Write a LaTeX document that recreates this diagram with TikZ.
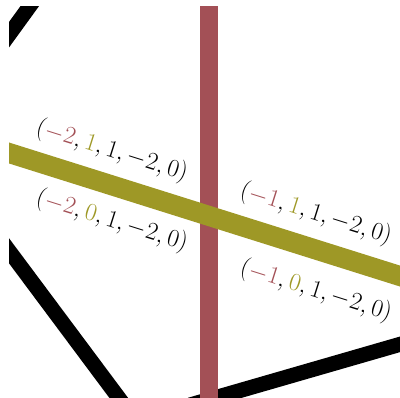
\documentclass[tikz,border=0pt]{standalone}
\usetikzlibrary{positioning}
\usepackage{xcolor}
\definecolor{wallred}{RGB}{163,80,86}
\definecolor{wallolive}{RGB}{158,152,38}
\tikzstyle{edge} = [line width=15pt, draw=black]
\tikzstyle{redwall} = [line width=18pt, draw=wallred]
\tikzstyle{olivewall} = [line width=20pt, draw=wallolive]
\tikzstyle{coord} = [font=\fontsize{27.5}{32}\selectfont, rotate=-17.46, inner sep=0pt]
\newcommand{\fr}[1]{\textcolor{wallred}{#1}}
\newcommand{\so}[1]{\textcolor{wallolive}{#1}}

\begin{document}
\begin{tikzpicture}[x=1pt,y=-1pt]
\useasboundingbox (0,0) rectangle (400,398);
\clip (9,7) rectangle (400,398);
% --- end points ---
\coordinate (tlA) at (40,-8);
\coordinate (tlB) at (-5,54);
\coordinate (blA) at (-5,232);
\coordinate (blB) at (130,413);
\coordinate (brA) at (190,405);
\coordinate (brB) at (415,340);
\coordinate (rtop) at (209,-10);
\coordinate (rbot) at (209,410);
\coordinate (oleft) at (-10,147);
\coordinate (oright) at (410,279.2);

% --- black edges ---
\draw[edge] (tlA) -- (tlB);
\draw[edge] (blA) -- (blB);
\draw[edge] (brA) -- (brB);

% --- walls ---
\draw[redwall] (rtop) -- (rbot);
\draw[olivewall] (oleft) -- (oright);

% --- labels ---
\node (lup) [coord] at (112,151) {$(\fr{-2},\so{1},1,-2,0)$};
\node (llo) [coord] at (112,221) {$(\fr{-2},\so{0},1,-2,0)$};
\node (rup) [coord] at (316,214) {$(\fr{-1},\so{1},1,-2,0)$};
\node (rlo) [coord] at (316,291) {$(\fr{-1},\so{0},1,-2,0)$};
\end{tikzpicture}
\end{document}
